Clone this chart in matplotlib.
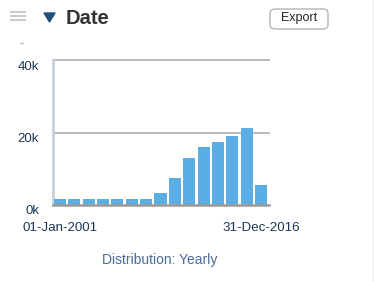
import matplotlib
matplotlib.use('Agg')
import matplotlib.pyplot as plt
import matplotlib.transforms as mtransforms
from matplotlib.patches import FancyBboxPatch, Polygon
from matplotlib.lines import Line2D

plt.rcParams['font.family'] = ['Liberation Sans', 'DejaVu Sans']

# yearly counts
counts = [1600, 1600, 1600, 1600, 1600, 1600, 1600, 3400, 7500,
          13000, 16100, 17400, 19100, 21200, 5500]
ytick_vals = [0, 20000, 40000]
ytick_labels = ['0k', '20k', '40k']
xtick_labels = ['01-Jan-2001', '31-Dec-2016']
title = 'Date'
footer = 'Distribution: Yearly'

W, H = 374, 282
fig = plt.figure(figsize=(W / 100, H / 100), dpi=100)
fig.patch.set_facecolor('white')

ax = fig.add_axes([53 / W, 1 - 205 / H, 216 / W, 145 / H])
xs = list(range(len(counts)))
ax.bar(xs, counts, width=0.84, color='#5aaee3', zorder=3)
ax.set_xlim(-0.49, len(counts) - 1 + 0.56)
ax.set_ylim(0, 40000)

ax.set_yticks(ytick_vals)
ax.set_yticklabels(ytick_labels)
ax.set_xticks([xs[0], xs[-1]])
ax.set_xticklabels(xtick_labels)
ax.tick_params(axis='y', length=0, pad=10, labelsize=9.5, labelcolor='#1d3656')
ax.tick_params(axis='x', length=0, pad=12, labelsize=9.6, labelcolor='#1d3656')
shift = mtransforms.ScaledTranslation(0, -5 / 100, fig.dpi_scale_trans)
for lab in ax.get_yticklabels():
    lab.set_transform(lab.get_transform() + shift)

for y in ytick_vals[1:]:
    ax.axhline(y, color='#b4b4b4', lw=1.3, zorder=1, clip_on=False)
for s in ['top', 'right']:
    ax.spines[s].set_visible(False)
ax.spines['left'].set_color('#c8d0da')
ax.spines['left'].set_linewidth(2)
ax.spines['bottom'].set_color('#9a9a9a')
ax.spines['bottom'].set_linewidth(1.8)
ax.spines['bottom'].set_zorder(4)

# header
fig.text(66 / W, 1 - 18 / H, title, fontsize=14.5, fontweight='bold',
         color='#333333', va='center', ha='left')
tri = Polygon([[44 / W, 1 - 13 / H], [55 / W, 1 - 13 / H], [49.5 / W, 1 - 22 / H]],
              closed=True, transform=fig.transFigure, color='#1f4e7a')
fig.patches.append(tri)
for yy in [12, 16, 20]:
    fig.lines.append(Line2D([11 / W, 25 / W], [1 - yy / H, 1 - yy / H],
                            transform=fig.transFigure, color='#cccccc', lw=1.5))
btn = FancyBboxPatch((270 / W, 1 - 29 / H), 58 / W, 20 / H,
                     boxstyle='round,pad=0,rounding_size=0.015',
                     transform=fig.transFigure, facecolor='white',
                     edgecolor='#b5b5b5', lw=1)
fig.patches.append(btn)
fig.text(299 / W, 1 - 18.5 / H, 'Export', fontsize=9, color='#222222',
         ha='center', va='center')
fig.lines.append(Line2D([372.5 / W, 372.5 / W], [0, 1], transform=fig.transFigure,
                        color='#eeeeee', lw=1))
fig.lines.append(Line2D([20 / W, 23 / W], [1 - 43 / H, 1 - 43 / H],
                        transform=fig.transFigure, color='#bbbbbb', lw=0.8))

fig.text(160 / W, 1 - 260 / H, footer, fontsize=10, color='#4a6c98',
         ha='center', va='center')

fig.savefig('out.png', dpi=100)
